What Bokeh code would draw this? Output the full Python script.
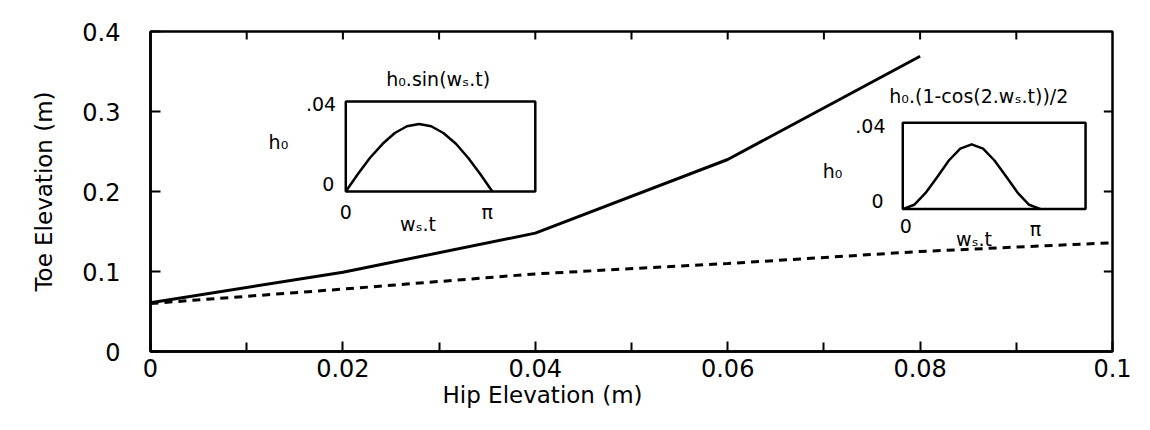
import math
from bokeh.plotting import figure
from bokeh.models import Range1d, LinearAxis, FixedTicker, Title
from bokeh.core.properties import value
from bokeh.embed import file_html
from bokeh.resources import INLINE

# ---------------- data ----------------
hip_solid = [0.0, 0.02, 0.04, 0.06, 0.08]
toe_solid = [0.061, 0.099, 0.148, 0.24, 0.369]

hip_dashed = [0.0, 0.02, 0.04, 0.06, 0.08, 0.1]
toe_dashed = [0.06, 0.078, 0.097, 0.11, 0.125, 0.136]

x_ticks = [0.0, 0.02, 0.04, 0.06, 0.08, 0.1]
x_tick_labels = ["0", "0.02", "0.04", "0.06", "0.08", "0.1"]
x_minor = [0.01, 0.03, 0.05, 0.07, 0.09]
y_ticks = [0.0, 0.1, 0.2, 0.3, 0.4]
y_tick_labels = ["0", "0.1", "0.2", "0.3", "0.4"]

# inset curves (w_s.t from 0 to pi)
inset_t = [0, 0.26, 0.52, 0.79, 1.05, 1.31, 1.57, 1.83, 2.09, 2.36, 2.62, 2.88, 3.14]
inset1_h = [0, 0.0078, 0.015, 0.0212, 0.026, 0.029, 0.030, 0.029, 0.026, 0.0212, 0.015, 0.0078, 0]
inset2_h = [0, 0.002, 0.0075, 0.015, 0.0225, 0.028, 0.030, 0.028, 0.0225, 0.015, 0.0075, 0.002, 0]

FONT = "DejaVu Sans"
LW = 2.5
INSET_FS = "19px"

p = figure(frame_width=962, frame_height=320,
           min_border_left=150, min_border_right=38,
           min_border_top=31, min_border_bottom=40,
           x_range=Range1d(0, 0.1), y_range=Range1d(0, 0.4),
           output_backend="svg", toolbar_location=None,
           x_axis_location=None, y_axis_location=None)
p.grid.visible = False
p.outline_line_color = "black"
p.outline_line_width = LW
p.background_fill_color = "white"
p.border_fill_color = "white"

def style(ax):
    ax.axis_line_width = LW
    ax.axis_line_color = "black"
    ax.major_tick_in = 10
    ax.major_tick_out = 0
    ax.minor_tick_in = 9
    ax.minor_tick_out = 0
    ax.major_tick_line_width = 2
    ax.minor_tick_line_width = 2
    ax.major_tick_line_color = "black"
    ax.minor_tick_line_color = "black"
    ax.major_label_text_font = FONT
    ax.major_label_text_color = "black"
    ax.major_label_text_font_size = "24px"
    ax.axis_label_text_font = FONT
    ax.axis_label_text_font_style = "normal"
    ax.axis_label_text_font_size = "23px"
    ax.axis_label_text_color = "black"

# bottom
bx = LinearAxis(ticker=FixedTicker(ticks=x_ticks, minor_ticks=x_minor))
bx.major_label_overrides = {t: l for t, l in zip(x_ticks, x_tick_labels)}
style(bx)
bx.major_label_standoff = 7
p.add_layout(bx, "below")

# x title, offset left of centre like the reference
p.add_layout(Title(text="Hip Elevation (m)", align="left", offset=292,
                   text_font=FONT, text_font_size="23px", text_font_style="normal",
                   text_color="black", standoff=1), "below")

# left
ly = LinearAxis(ticker=FixedTicker(ticks=y_ticks, minor_ticks=[]),
                axis_label="Toe Elevation (m)")
ly.major_label_overrides = {t: l for t, l in zip(y_ticks, y_tick_labels)}
style(ly)
ly.major_label_standoff = 30
ly.axis_label_standoff = 22
p.add_layout(ly, "left")

# inward ticks on the top and right edges
top_ticks = x_minor + x_ticks[1:-1]
p.segment(x0=top_ticks, y0=[0.4] * len(top_ticks), x1=top_ticks,
          y1=[0.4 - 0.01] * len(top_ticks), line_width=2, color="black")
right_ticks = y_ticks[1:-1]
p.segment(x0=[0.1] * len(right_ticks), y0=right_ticks,
          x1=[0.1 - 0.0009] * len(right_ticks), y1=right_ticks,
          line_width=2, color="black")

# main curves
p.line(hip_solid, toe_solid, line_width=3, color="black", line_join="round")
p.line(hip_dashed, toe_dashed, line_width=3, color="black", line_dash="8 6")

# ---------------- insets ----------------
def inset(x0, x1, y0, y1, src_x_end, h, title, tpos, lbls):
    sub = p.subplot(x_source=Range1d(0, src_x_end), y_source=Range1d(0, 0.04),
                    x_target=Range1d(x0, x1), y_target=Range1d(y0, y1))
    sub.line(inset_t, h, line_width=LW, color="black", line_join="round")
    p.quad(left=[x0], right=[x1], bottom=[y0], top=[y1], fill_color=None,
           line_color="black", line_width=LW)
    p.text(x=[tpos[0]], y=[tpos[1]], text=[title], text_font=value(FONT),
           text_font_size=INSET_FS, text_align="center", text_baseline="middle",
           text_color="black")
    for (lx, ly_, txt, al) in lbls:
        p.text(x=[lx], y=[ly_], text=[txt], text_font=value(FONT),
               text_font_size=INSET_FS, text_align=al, text_baseline="middle",
               text_color="black")

inset(0.0203, 0.0400, 0.2, 0.3125, 4.06, inset1_h, "h₀.sin(wₛ.t)", (0.0299, 0.341),
      [(0.0193, 0.309, ".04", "right"),
       (0.0191, 0.209, "0", "right"),
       (0.0133, 0.2625, "h₀", "center"),
       (0.0203, 0.175, "0", "center"),
       (0.0350, 0.174, "π", "center"),
       (0.0278, 0.160, "wₛ.t", "center")])

inset(0.0782, 0.0972, 0.178, 0.286, 4.166, inset2_h, "h₀.(1-cos(2.wₛ.t))/2", (0.0861, 0.319),
      [(0.0764, 0.282, ".04", "right"),
       (0.0762, 0.188, "0", "right"),
       (0.0709, 0.2256, "h₀", "center"),
       (0.0785, 0.157, "0", "center"),
       (0.0920, 0.153, "π", "center"),
       (0.0856, 0.1406, "wₛ.t", "center")])

open("out.html", "w").write(file_html(p, INLINE))
